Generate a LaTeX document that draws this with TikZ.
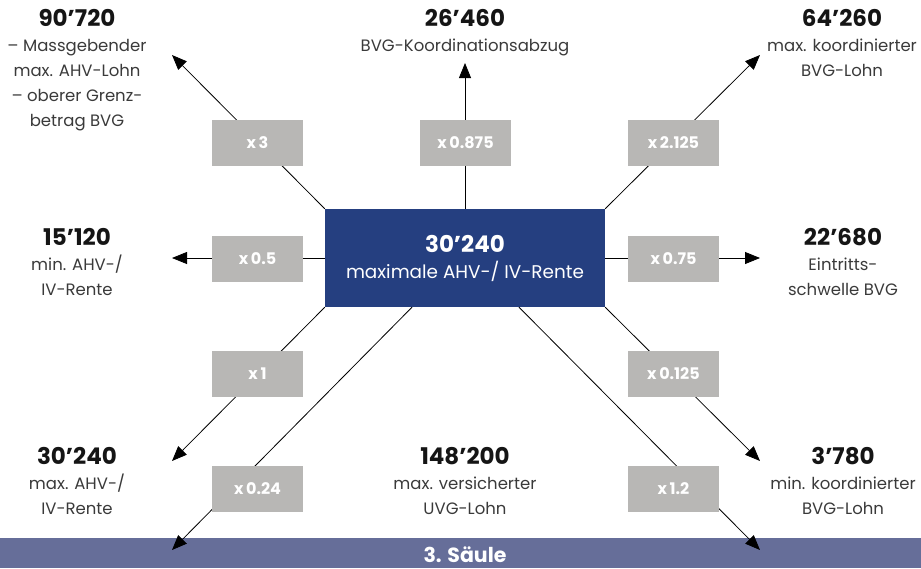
\documentclass[tikz,border=0pt]{standalone}
\usepackage{fontspec}
\setmainfont{Poppins}
\usetikzlibrary{arrows.meta}

\definecolor{ahvblue}{HTML}{253F80}
\definecolor{factorgrey}{HTML}{B8B7B5}
\definecolor{barblue}{HTML}{666E99}
\definecolor{bodygrey}{HTML}{3A3A3A}
\definecolor{numblack}{HTML}{151515}

\tikzset{
  factor/.style={fill=factorgrey, text=white, minimum width=91pt, minimum height=46pt,
    inner sep=0pt, font=\bfseries\fontsize{16}{18}\selectfont},
  result/.style={align=center, text=bodygrey, anchor=north, inner sep=0pt,
    font=\fontsize{16.5}{25}\selectfont},
  link/.style={-{Triangle[length=15pt,width=12pt]}, line width=0.8pt},
}
\newcommand{\amount}[1]{{\color{numblack}\bfseries\fontsize{23}{25}\selectfont #1}}

\begin{document}
\begin{tikzpicture}[x=1pt,y=-1pt]
  \useasboundingbox (0,0) rectangle (921,568);

  % Saeule 3
  \node[fill=barblue, minimum width=921pt, minimum height=30pt, inner sep=0pt,
        anchor=north west] (bar) at (0,538) {};
  \node[text=white, inner sep=0pt, font=\bfseries\fontsize{20.5}{22}\selectfont] (barlabel) at (465,555) {3. Säule};

  % Rente
  \node[fill=ahvblue, minimum width=280pt, minimum height=98pt, inner sep=0pt, text=white,
        align=center, font=\fontsize{18.4}{26}\selectfont] (rente) at (465,258)
        {{\bfseries\fontsize{23}{26}\selectfont 30’240}\\maximale AHV-/ IV-Rente};

  % arrow ends
  \coordinate (tNW) at (172,55);
  \coordinate (tN) at (465,63);
  \coordinate (tNE) at (760,55);
  \coordinate (tW) at (172,258);
  \coordinate (tE) at (760,258);
  \coordinate (tSW) at (172,461);
  \coordinate (tSE) at (760,461);
  \coordinate (tSSW) at (172,550);
  \coordinate (tSSE) at (760,550);

  \draw[link] (rente.north west) -- (tNW);
  \draw[link] (rente.north) -- (tN);
  \draw[link] (rente.north east) -- (tNE);
  \draw[link] (rente.west) -- (tW);
  \draw[link] (rente.east) -- (tE);
  \draw[link] (rente.south west) -- (tSW);
  \draw[link] (rente.south east) -- (tSE);
  \draw[link] ([xshift=-53pt]rente.south) -- (tSSW);
  \draw[link] ([xshift=54pt]rente.south) -- (tSSE);

  % factors
  \node[factor] (f3) at (257.5,143) {x\,3};
  \node[factor] (f0875) at (465.5,143) {x\,0.875};
  \node[factor] (f2125) at (673.5,143) {x\,2.125};
  \node[factor] (f05) at (257.5,259) {x\,0.5};
  \node[factor] (f075) at (673.5,259) {x\,0.75};
  \node[factor] (f1) at (257.5,374) {x\,1};
  \node[factor] (f0125) at (673.5,374) {x\,0.125};
  \node[factor] (f024) at (257.5,489) {x\,0.24};
  \node[factor] (f12) at (673.5,489) {x\,1.2};

  % results
  \node[result] (rNW) at (77,9) {\amount{90’720}\\– Massgebender\\max. AHV-Lohn\\– oberer Grenz-\\betrag BVG};
  \node[result] (rN) at (465,9) {\amount{26’460}\\BVG-Koordinationsabzug};
  \node[result] (rNE) at (842,9) {\amount{64’260}\\max. koordinierter\\BVG-Lohn};
  \node[result] (rW) at (77,228) {\amount{15’120}\\min. AHV-/\\IV-Rente};
  \node[result] (rE) at (843,228) {\amount{22’680}\\Eintritts-\\schwelle BVG};
  \node[result] (rSW) at (77,447) {\amount{30’240}\\max. AHV-/\\IV-Rente};
  \node[result] (rS) at (465,447) {\amount{148’200}\\max. versicherter\\UVG-Lohn};
  \node[result] (rSE) at (843,447) {\amount{3’780}\\min. koordinierter\\BVG-Lohn};
\end{tikzpicture}
\end{document}
